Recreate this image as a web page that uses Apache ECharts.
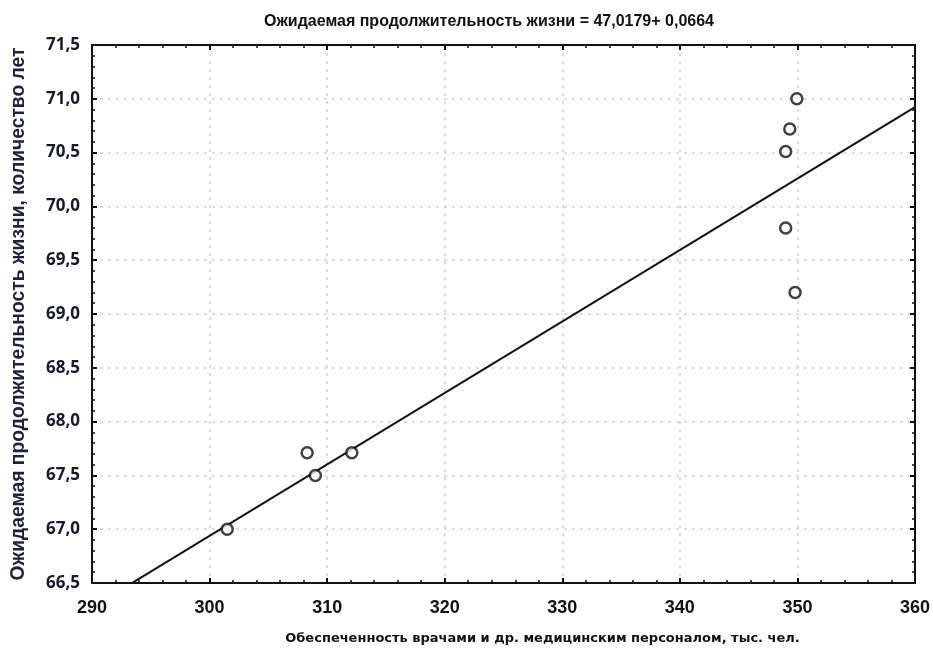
<!DOCTYPE html>
<html>
<head>
<meta charset="utf-8">
<style>
  html, body { margin: 0; padding: 0; background: #fff; }
  #chart { width: 933px; height: 648px; }
</style>
<script src="https://cdn.jsdelivr.net/npm/echarts@6/dist/echarts.min.js"></script>
</head>
<body>
<div id="chart"></div>
<script>
// Обеспеченность персоналом (тыс. чел.) и ожидаемая продолжительность жизни (лет)
const staffing = [301.5, 308.3, 309.0, 312.1, 349.0, 349.35, 349.95, 349.0, 349.8];
const lifeExpectancy = [67.0, 67.71, 67.5, 67.71, 70.51, 70.72, 71.0, 69.8, 69.2];

// Коэффициенты линейной регрессии из заголовка
const intercept = 47.0179;
const slope = 0.0664;
const fitRange = [290, 360];

const xTicks = [290, 300, 310, 320, 330, 340, 350, 360];
const yTicks = [66.5, 67.0, 67.5, 68.0, 68.5, 69.0, 69.5, 70.0, 70.5, 71.0, 71.5];

const titleText = 'Ожидаемая продолжительность жизни = 47,0179+ 0,0664';
const xName = 'Обеспеченность врачами и др. медицинским персоналом, тыс. чел.';
const yName = 'Ожидаемая продолжительность жизни, количество лет';

const points = staffing.map((x, i) => [x, lifeExpectancy[i]]);
const fitLine = fitRange.map(x => [x, intercept + slope * x]);

const fmtY = v => v.toFixed(1).replace('.', ',');
const axisColor = '#111';

function baseAxis(extra) {
  return Object.assign({
    type: 'value',
    axisLine: { show: true, onZero: false, lineStyle: { color: axisColor, width: 2 } },
    axisTick: { show: true, inside: true, length: 5, lineStyle: { color: axisColor, width: 2 } },
    minorTick: { show: true, splitNumber: 5, length: 3, lineStyle: { color: axisColor, width: 1.5 } },
  }, extra);
}

const chart = echarts.init(document.getElementById('chart'), null, { renderer: 'canvas' });
chart.setOption({
  backgroundColor: '#fff',
  animation: false,
  title: {
    text: titleText,
    left: 484, top: 9, textAlign: 'center',
    textStyle: { fontFamily: 'Liberation Sans Narrow, Liberation Sans, Arial', fontWeight: 'bold', fontSize: 16, color: '#111' }
  },
  grid: { left: 92, right: 18, top: 45, bottom: 65, containLabel: false, outerBoundsMode: 'none' },
  xAxis: [
    baseAxis({
      position: 'bottom',
      min: xTicks[0], max: xTicks[xTicks.length - 1], interval: 10,
      axisLabel: { margin: 16, fontFamily: 'Liberation Sans Narrow, Liberation Sans, Arial', fontWeight: 'bold', fontSize: 18, color: '#111' },
      splitLine: { show: true, lineStyle: { color: '#d4d4d4', type: [3, 5], width: 1.5 } },
      name: xName, nameLocation: 'middle', nameGap: 49,
      nameTextStyle: { fontFamily: 'DejaVu Sans', fontWeight: 'bold', fontSize: 13, color: '#111', padding: [0, 0, 0, 78] }
    }),
    baseAxis({
      position: 'top',
      min: xTicks[0], max: xTicks[xTicks.length - 1], interval: 10,
      axisLabel: { show: false }, splitLine: { show: false }
    })
  ],
  yAxis: [
    baseAxis({
      position: 'left',
      min: yTicks[0], max: yTicks[yTicks.length - 1], interval: 0.5,
      axisLabel: { margin: 12, formatter: fmtY, fontFamily: 'Open Sans, Liberation Sans, Arial', fontWeight: 'bold', fontSize: 17, color: '#161a2e' },
      splitLine: { show: true, lineStyle: { color: '#d4d4d4', type: [3, 5], width: 1.5 } },
      name: yName, nameLocation: 'middle', nameGap: 64, nameRotate: 90,
      nameTextStyle: { fontFamily: 'Liberation Sans, Arial', fontWeight: 'bold', fontSize: 19.3, color: '#1b2240' }
    }),
    baseAxis({
      position: 'right',
      min: yTicks[0], max: yTicks[yTicks.length - 1], interval: 0.5,
      axisLabel: { show: false }, splitLine: { show: false }
    })
  ],
  series: [
    {
      type: 'line',
      data: fitLine,
      xAxisIndex: 0, yAxisIndex: 0,
      showSymbol: false, symbol: 'none',
      clip: true,
      lineStyle: { color: '#111', width: 2 },
      z: 2
    },
    {
      type: 'scatter',
      data: points,
      xAxisIndex: 0, yAxisIndex: 0,
      symbol: 'circle', symbolSize: 11,
      itemStyle: { color: '#fff', borderColor: '#111', borderWidth: 2.5 },
      z: 3
    }
  ]
});
</script>
</body>
</html>
